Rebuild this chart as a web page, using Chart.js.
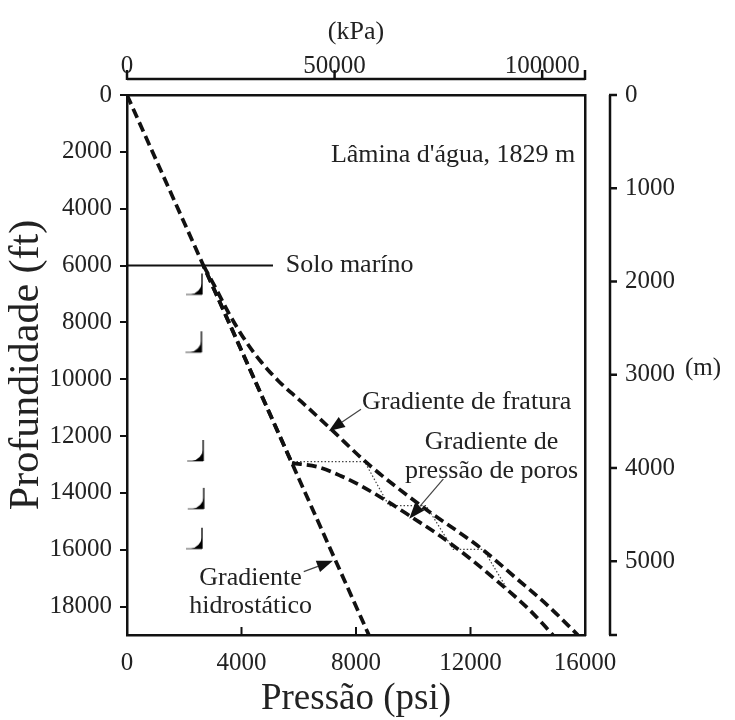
<!DOCTYPE html>
<html>
<head>
<meta charset="utf-8">
<title>Gradientes de pressão</title>
<script src="https://cdn.jsdelivr.net/npm/chart.js@4.4.0/dist/chart.umd.min.js"></script>
<style>
  html, body { margin: 0; padding: 0; background: #fff; }
  #wrap { width: 735px; height: 720px; }
</style>
</head>
<body>
<div id="wrap"><canvas id="grafico" width="735" height="720"></canvas></div>
<script>
// eixos
const psiTicks = [0, 4000, 8000, 12000, 16000];
const ftTicks = [0, 2000, 4000, 6000, 8000, 10000, 12000, 14000, 16000, 18000];
const kpaTicks = [0, 50000, 100000];
const mTicks = [0, 1000, 2000, 3000, 4000, 5000];

// gradiente hidrostático (coluna d'água + formação)
const hidroPsi = [0, 2670, 8450];
const hidroFt = [0, 6000, 19000];

// gradiente de pressão de poros
const poroPsi = [2670, 5760, 6667, 7474, 8175, 9123, 9930, 10982, 12035, 13158, 14050, 14880];
const poroFt = [6000, 12950, 13088, 13404, 13754, 14316, 14842, 15544, 16351, 17298, 18105, 19000];

// gradiente de fratura
const fratPsi = [2670, 3123, 3579, 4105, 4667, 5298, 6070, 7123, 8421, 10281, 12386, 13614, 14700, 15750];
const fratFt = [6000, 6842, 7719, 8596, 9368, 10070, 10772, 11754, 12982, 14456, 15965, 17018, 17965, 19000];

// linha pontilhada (assentamento das sapatas)
const degrauPsi = [5800, 8300, 9150, 10450, 11400, 12450, 13250];
const degrauFt = [12900, 12900, 14450, 14450, 15990, 15990, 17330];

// sapatas
const sapataPsi = [2620, 2600, 2660, 2680, 2620];
const sapataFt = [7018, 9053, 12877, 14561, 15965];

const FONTE = '"Liberation Serif", "Times New Roman", serif';
const COR = '#111';
const PSI_KPA = 6.894757;
const FT_M = 0.3048;
const yMax = 19000;
const xMax = 16000;

const notas = [
    { t: "Lâmina d'água, 1829 m", psi: 7123, ft: 2105, al: 'left' },
    { t: 'Solo maríno', psi: 5544, ft: 6000, al: 'left' },
    { t: 'Gradiente de fratura', psi: 8210, ft: 10807, al: 'left' },
    { t: 'Gradiente de', psi: 12737, ft: 12210, al: 'center' },
    { t: 'pressão de poros', psi: 12737, ft: 13228, al: 'center' },
    { t: 'Gradiente', psi: 4316, ft: 17018, al: 'center' },
    { t: 'hidrostático', psi: 4316, ft: 18000, al: 'center' }
];
const setas = [
    { de: [8175, 11053], para: [7053, 11825] },
    { de: [11053, 13509], para: [9860, 14912] },
    { de: [6175, 16772], para: [7193, 16386] }
];

function pts(xs, ys) {
    return xs.map((x, i) => ({ x: x, y: ys[i] }));
}

function criaSapata() {
    const c = document.createElement('canvas');
    c.width = 44; c.height = 48;
    const g = c.getContext('2d');
    const cx = 22, cy = 24;
    g.strokeStyle = '#222';
    g.lineWidth = 1.5;
    g.beginPath();
    g.moveTo(cx, cy - 21);
    g.lineTo(cx, cy);
    g.stroke();
    g.strokeStyle = '#777';
    g.lineWidth = 1.3;
    g.beginPath();
    g.moveTo(cx, cy);
    g.lineTo(cx - 16, cy);
    g.stroke();
    g.fillStyle = '#000';
    g.beginPath();
    g.moveTo(cx - 11, cy);
    g.quadraticCurveTo(cx - 2, cy - 2, cx, cy - 11);
    g.lineTo(cx, cy);
    g.closePath();
    g.fill();
    return c;
}

const tracejado = {
    borderColor: COR,
    borderWidth: 3.7,
    borderDash: [10, 5],
    borderCapStyle: 'butt',
    pointRadius: 0,
    fill: false
};

const extras = {
    id: 'extras',
    afterDatasetsDraw(chart) {
        const { ctx, chartArea: a, scales } = chart;
        const sx = scales.x, sy = scales.y, sk = scales.x2, sm = scales.y2;
        const px = v => sx.getPixelForValue(v);
        const py = v => sy.getPixelForValue(v);
        ctx.save();
        ctx.strokeStyle = COR;
        ctx.lineCap = 'butt';

        // solo marinho
        ctx.lineWidth = 2;
        ctx.beginPath();
        ctx.moveTo(px(0), py(6000));
        ctx.lineTo(px(5100), py(6000));
        ctx.stroke();

        // marcas internas do eixo inferior
        psiTicks.forEach(v => {
            ctx.beginPath();
            ctx.moveTo(px(v), a.bottom);
            ctx.lineTo(px(v), a.bottom - 8);
            ctx.stroke();
        });

        // eixo kPa (superior, separado)
        const yk = a.top - 16;
        ctx.lineWidth = 2.5;
        ctx.beginPath();
        ctx.moveTo(sk.getPixelForValue(0), yk);
        ctx.lineTo(sk.getPixelForValue(sk.max), yk);
        ctx.stroke();
        kpaTicks.concat([sk.max]).forEach(v => {
            ctx.beginPath();
            ctx.moveTo(sk.getPixelForValue(v), yk + 1);
            ctx.lineTo(sk.getPixelForValue(v), yk - 9);
            ctx.stroke();
        });

        // eixo m (direita, separado)
        const xm = a.right + 25;
        ctx.beginPath();
        ctx.moveTo(xm, sm.getPixelForValue(0));
        ctx.lineTo(xm, sm.getPixelForValue(sm.max));
        ctx.stroke();
        mTicks.concat([sm.max]).forEach(v => {
            ctx.beginPath();
            ctx.moveTo(xm - 1, sm.getPixelForValue(v));
            ctx.lineTo(xm + 7, sm.getPixelForValue(v));
            ctx.stroke();
        });

        // textos
        ctx.fillStyle = '#222';
        ctx.font = '26px ' + FONTE;
        ctx.textBaseline = 'middle';
        notas.forEach(n => {
            ctx.textAlign = n.al;
            ctx.fillText(n.t, px(n.psi), py(n.ft));
        });
        ctx.font = '25px ' + FONTE;
        ctx.textAlign = 'left';
        ctx.fillText('(m)', 685, sm.getPixelForValue(3000) - 6);

        // setas
        setas.forEach(s => {
            const x0 = px(s.de[0]), y0 = py(s.de[1]);
            const x1 = px(s.para[0]), y1 = py(s.para[1]);
            const ang = Math.atan2(y1 - y0, x1 - x0);
            const L = 16, W = 6;
            ctx.strokeStyle = '#444';
            ctx.lineWidth = 1.2;
            ctx.beginPath();
            ctx.moveTo(x0, y0);
            ctx.lineTo(x1 - L * Math.cos(ang), y1 - L * Math.sin(ang));
            ctx.stroke();
            ctx.fillStyle = '#111';
            ctx.beginPath();
            ctx.moveTo(x1, y1);
            ctx.lineTo(x1 - L * Math.cos(ang) - W * Math.sin(ang), y1 - L * Math.sin(ang) + W * Math.cos(ang));
            ctx.lineTo(x1 - L * Math.cos(ang) + W * Math.sin(ang), y1 - L * Math.sin(ang) - W * Math.cos(ang));
            ctx.closePath();
            ctx.fill();
        });
        ctx.restore();
    }
};

const fonteTick = { family: FONTE, size: 25 };
const borda = { display: true, color: COR, width: 2.5 };

new Chart(document.getElementById('grafico'), {
    type: 'line',
    data: {
        datasets: [
            Object.assign({ label: 'Gradiente hidrostático', data: pts(hidroPsi, hidroFt), tension: 0 }, tracejado),
            Object.assign({ label: 'Poros (trecho hidrostático)', data: pts(poroPsi.slice(0, 2), poroFt.slice(0, 2)), tension: 0, borderDashOffset: 7 }, tracejado),
            Object.assign({ label: 'Gradiente de pressão de poros', data: pts(poroPsi.slice(1), poroFt.slice(1)), cubicInterpolationMode: 'monotone' }, tracejado),
            Object.assign({ label: 'Gradiente de fratura', data: pts(fratPsi, fratFt), cubicInterpolationMode: 'monotone' }, tracejado),
            {
                label: 'Sapatas (degraus)',
                data: pts(degrauPsi, degrauFt),
                borderColor: '#444',
                borderWidth: 1.2,
                borderDash: [1.5, 2],
                pointRadius: 0,
                tension: 0,
                fill: false
            },
            {
                label: 'Sapatas',
                data: pts(sapataPsi, sapataFt),
                showLine: false,
                pointStyle: criaSapata(),
                pointRadius: 10
            }
        ]
    },
    options: {
        responsive: false,
        animation: false,
        events: [],
        layout: { padding: 0 },
        plugins: { legend: { display: false }, tooltip: { enabled: false } },
        scales: {
            x: {
                type: 'linear', position: 'bottom', min: 0, max: xMax,
                afterBuildTicks: s => { s.ticks = psiTicks.map(v => ({ value: v })); },
                afterFit: s => { s.height = 85; },
                grid: { display: false, drawTicks: false },
                border: borda,
                ticks: { padding: 13, color: '#222', font: fonteTick, maxRotation: 0, autoSkip: false, callback: v => String(v) },
                title: { display: true, text: 'Pressão (psi)', color: '#222', font: { family: FONTE, size: 37, lineHeight: 1.1 }, padding: { top: 0, bottom: 0 } }
            },
            x2: {
                type: 'linear', position: 'top', min: 0, max: xMax * PSI_KPA,
                afterBuildTicks: s => { s.ticks = kpaTicks.map(v => ({ value: v })); },
                afterFit: s => { s.height = 95; },
                grid: { display: false, drawTicks: false },
                border: borda,
                ticks: { padding: 14, color: '#222', font: fonteTick, maxRotation: 0, autoSkip: false, callback: v => String(v) },
                title: { display: true, text: '(kPa)', color: '#222', font: { family: FONTE, size: 26 }, padding: { top: 17, bottom: 0 } }
            },
            y: {
                type: 'linear', position: 'left', min: 0, max: yMax, reverse: true,
                afterBuildTicks: s => { s.ticks = ftTicks.map(v => ({ value: v })); },
                afterFit: s => { s.width = 127; },
                grid: { display: true, drawOnChartArea: false, drawTicks: true, tickLength: 7, color: COR, lineWidth: 2 },
                border: borda,
                ticks: { padding: 8, color: '#222', font: fonteTick, autoSkip: false, callback: v => String(v) },
                title: { display: true, text: 'Profundidade (ft)', color: '#222', font: { family: FONTE, size: 42, lineHeight: 1.1 }, padding: { top: 4, bottom: 0 } }
            },
            y2: {
                type: 'linear', position: 'right', min: 0, max: yMax * FT_M, reverse: true,
                afterBuildTicks: s => { s.ticks = mTicks.map(v => ({ value: v })); },
                afterFit: s => { s.width = 150; },
                grid: { display: false, drawTicks: false },
                border: borda,
                ticks: { padding: 40, color: '#222', font: fonteTick, autoSkip: false, callback: v => String(v) }
            }
        }
    },
    plugins: [extras]
});
</script>
</body>
</html>
